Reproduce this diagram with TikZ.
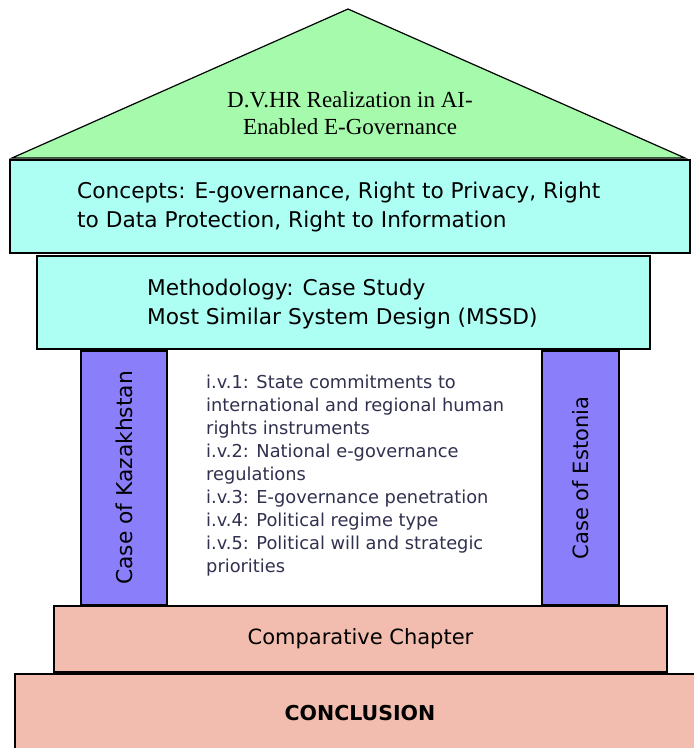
\documentclass[tikz,border=0pt]{standalone}
\usepackage{fontspec}
\setmainfont{DejaVu Sans}
\newfontfamily\rooffont{Liberation Serif}
\newfontfamily\pillarfont{DejaVu Sans}
\usepackage{xcolor}
\usepackage{tikz}
\usetikzlibrary{shapes,positioning}
\definecolor{roofgreen}{HTML}{A6FAAB}
\definecolor{beamcyan}{HTML}{ADFFF4}
\definecolor{pillarblue}{HTML}{8B7EFA}
\definecolor{basesalmon}{HTML}{F2BDAE}
\definecolor{ivtext}{HTML}{30304F}
\tikzset{slab/.style={rectangle,draw,line width=1.2pt,inner sep=0pt}}
\tikzset{txt/.style={align=left,inner sep=0pt,font=\fontsize{21.7}{29}\selectfont}}

\begin{document}
\begin{tikzpicture}[x=1pt,y=-1pt]
        \useasboundingbox (0,0) rectangle (694,748);
        \coordinate (apex) at (348,9);
        \coordinate (eaveL) at (12,158);
        \coordinate (eaveR) at (685,158);
        \draw[fill=roofgreen,line width=1.2pt,line join=miter] (eaveL) -- (apex) -- (eaveR) -- cycle;
        \node[align=center,inner sep=0pt,font=\rooffont\fontsize{23}{27}\selectfont] (roof) at (350,113) {D.V.HR Realization in AI-\\Enabled E-Governance};

        \node[slab,fill=beamcyan,minimum width=680,minimum height=93] (concepts) at (350,206.5) {};
        \node[txt,anchor=west] (conceptstxt) at (77,207) {Concepts: E-governance, Right to Privacy, Right\\to Data Protection, Right to Information};
        \node[slab,fill=beamcyan,minimum width=613,minimum height=93] (method) at (343.5,302.5) {};
        \node[txt,anchor=west] (methodtxt) at (147,304) {Methodology: Case Study\\Most Similar System Design (MSSD)};

        \node[slab,fill=pillarblue,minimum width=86,minimum height=254] (kaz) at (124,478) {};
        \node[rotate=90,inner sep=0pt,font=\pillarfont\fontsize{21.8}{23}\selectfont] (kaztxt) at (kaz) {Case of Kazakhstan};
        \node[slab,fill=pillarblue,minimum width=77,minimum height=254] (est) at (580.5,478) {};
        \node[rotate=90,inner sep=0pt,font=\pillarfont\fontsize{21}{23}\selectfont] (esttxt) at (est) {Case of Estonia};

        \node[align=left,inner sep=0pt,anchor=west,text=ivtext,font=\fontsize{17.8}{23}\selectfont] (ivs) at (206,476) {i.v.1: State commitments to\\international and regional human\\rights instruments\\i.v.2: National e-governance\\regulations\\i.v.3: E-governance penetration\\i.v.4: Political regime type\\i.v.5: Political will and strategic\\priorities};

        \node[slab,fill=basesalmon,minimum width=613,minimum height=66,font=\fontsize{21}{24}\selectfont] (comp) at (360.5,639) {Comparative Chapter};
        \node[slab,fill=basesalmon,minimum width=690,minimum height=80] (concl) at (360,714) {};
        \node[inner sep=0pt,font=\fontsize{20.5}{24}\selectfont\bfseries] (concltxt) at (360,713) {CONCLUSION};
\end{tikzpicture}
\end{document}
